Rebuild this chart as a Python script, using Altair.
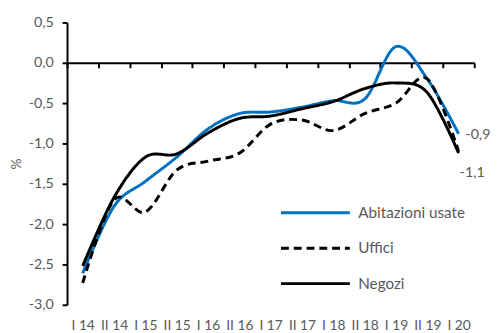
import altair as alt
import pandas as pd

periods = ["I 14", "II 14", "I 15", "II 15", "I 16", "II 16", "I 17",
           "II 17", "I 18", "II 18", "I 19", "II 19", "I 20"]
series_names = ["Abitazioni usate", "Uffici", "Negozi"]
abitazioni = [-2.61, -1.78, -1.47, -1.17, -0.82, -0.63, -0.61, -0.55, -0.47, -0.45, 0.20, -0.20, -0.88]
uffici = [-2.73, -1.70, -1.85, -1.33, -1.22, -1.12, -0.76, -0.71, -0.84, -0.63, -0.50, -0.20, -1.10]
negozi = [-2.52, -1.67, -1.17, -1.13, -0.87, -0.69, -0.66, -0.57, -0.48, -0.32, -0.25, -0.37, -1.12]
y_ticks = [0.5, 0.0, -0.5, -1.0, -1.5, -2.0, -2.5, -3.0]

rows = []
for name, vals in zip(series_names, [abitazioni, uffici, negozi]):
    for i, (p, v) in enumerate(zip(periods, vals)):
        rows.append({"serie": name, "idx": i, "periodo": p, "valore": v})
df = pd.DataFrame(rows)

n = len(periods)
FONT = "Lato"
GREY = "#595959"

x_scale = alt.Scale(domain=[-0.5, n - 0.5], nice=False, zero=False)
y_scale = alt.Scale(domain=[min(y_ticks), max(y_ticks)], nice=False, zero=False)

period_array = "[" + ",".join("'%s'" % p for p in periods) + "]"
num_fmt = "(datum.value < 0 ? '-' : '') + replace(format(abs(datum.value), '.1f'), '.', ',')"

legend_cfg = alt.Legend(
    orient="none", legendX=244, legendY=185, title=None,
    symbolType="M-5,0H5", symbolSize=196, symbolStrokeWidth=3,
    labelFont=FONT, labelFontSize=15.5, labelColor=GREY, labelOffset=35,
    rowPadding=19, padding=0, direction="vertical",
)

base = alt.Chart(df)

lines = base.mark_line(interpolate="cardinal", strokeWidth=3).encode(
    x=alt.X("idx:Q", scale=x_scale, axis=alt.Axis(
        orient="bottom",
        values=list(range(n)), labelExpr=period_array + "[round(datum.value)]",
        domain=False, ticks=False, grid=False, title=None,
        labelPadding=14, labelFont=FONT, labelFontSize=14, labelColor=GREY,
        labelFlush=False, labelOverlap=False, labelBaseline="top")),
    y=alt.Y("valore:Q", scale=y_scale, axis=alt.Axis(
        orient="left",
        values=y_ticks, labelExpr=num_fmt, grid=False,
        domainColor="black", domainWidth=2, tickColor="black", tickWidth=2, tickSize=5,
        labelPadding=9, labelFont=FONT, labelFontSize=14.5, labelColor=GREY,
        title="%", titleFont=FONT, titleFontSize=14, titleFontWeight="normal",
        titleColor=GREY, titlePadding=5)),
    color=alt.Color("serie:N", scale=alt.Scale(domain=series_names,
                    range=["#0070C0", "#000000", "#000000"]), legend=legend_cfg),
    strokeDash=alt.StrokeDash("serie:N", scale=alt.Scale(domain=series_names,
                    range=[[1, 0], [8, 5], [1, 0]]), legend=legend_cfg),
)

label_expr = "(datum.valore < 0 ? '-' : '') + replace(format(abs(datum.valore), '.1f'), '.', ',')"

end_a = base.transform_filter(
    (alt.datum.idx == n - 1) & (alt.datum.serie == series_names[0])
).transform_calculate(txt=label_expr).mark_text(
    align="left", baseline="middle", dx=7, dy=1, font=FONT, fontSize=14.5, color=GREY
).encode(
    x=alt.X("idx:Q", scale=x_scale, axis=alt.Axis(
        orient="bottom",
        values=[i - 0.5 for i in range(n + 1)], labels=False, domain=True, ticks=True,
        tickSize=5, tickWidth=2, domainWidth=2, domainColor="black", tickColor="black",
        grid=False, title=None, offset=-246)),
    y=alt.Y("valore:Q", scale=y_scale, axis=None),
    text="txt:N",
)

end_n = base.transform_filter(
    (alt.datum.idx == n - 1) & (alt.datum.serie == series_names[2])
).transform_calculate(txt=label_expr).mark_text(
    align="left", baseline="middle", dx=1, dy=20, font=FONT, fontSize=14.5, color=GREY
).encode(
    x=alt.X("idx:Q", scale=x_scale, axis=None),
    y=alt.Y("valore:Q", scale=y_scale, axis=None),
    text="txt:N",
)

chart = alt.layer(lines, end_a, end_n).resolve_axis(x="independent", y="independent").properties(
    width=414, height=287,
    padding={"left": 60, "top": 12, "right": 17, "bottom": 26},
    autosize="none", background="white",
).configure_view(stroke=None)

chart.save("out.html", embed_options={"renderer": "svg", "actions": False})
